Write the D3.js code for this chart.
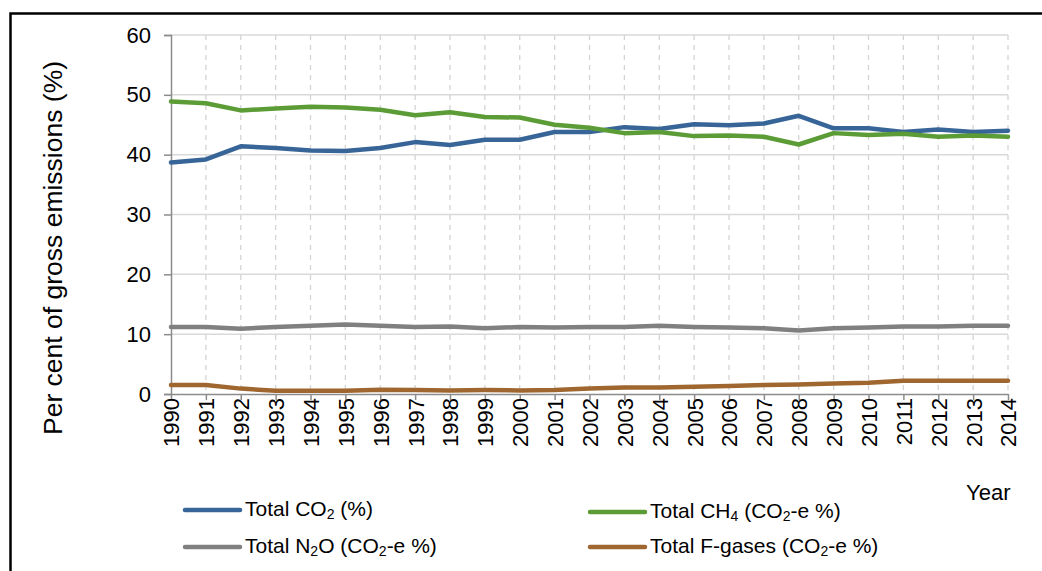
<!DOCTYPE html>
<html>
<head>
<meta charset="utf-8">
<script src="https://cdn.jsdelivr.net/npm/d3@7"></script>
<style>
  html, body { margin: 0; padding: 0; background: #fff; }
  svg { display: block; font-family: "Liberation Sans", Arial, sans-serif; }
</style>
</head>
<body>
<svg id="chart" width="1042" height="571"></svg>
<script>
const years = [1990,1991,1992,1993,1994,1995,1996,1997,1998,1999,2000,2001,2002,2003,2004,2005,2006,2007,2008,2009,2010,2011,2012,2013,2014];
const yTicks = [0,10,20,30,40,50,60];
const co2  = [38.7,39.2,41.4,41.1,40.7,40.6,41.1,42.1,41.6,42.5,42.5,43.8,43.8,44.6,44.3,45.1,44.9,45.2,46.5,44.4,44.4,43.8,44.2,43.8,44.0];
const ch4  = [48.9,48.6,47.4,47.7,48.0,47.9,47.5,46.6,47.1,46.3,46.2,45.0,44.5,43.6,43.8,43.1,43.2,43.0,41.7,43.6,43.3,43.5,43.0,43.2,43.0];
const n2o  = [11.2,11.2,10.9,11.2,11.4,11.6,11.4,11.2,11.3,11.0,11.2,11.1,11.2,11.2,11.4,11.2,11.1,11.0,10.6,11.0,11.1,11.3,11.3,11.4,11.4];
const fgas = [1.5,1.5,0.9,0.55,0.55,0.55,0.7,0.65,0.6,0.65,0.6,0.65,0.9,1.1,1.1,1.2,1.35,1.5,1.6,1.75,1.9,2.2,2.2,2.2,2.2];
const seriesColors = ["#386597","#5C9C36","#808080","#9F672F"];

(function () {
const svg = d3.select("#chart");
const pL = 171, pR = 1008, pT = 35, pB = 394;
const x = d3.scaleLinear().domain([1990, 2014]).range([pL, pR]);
const y = d3.scaleLinear().domain([0, 60]).range([pB, pT]);

// outer border (partially visible)
svg.append("rect").attr("x", 10.5).attr("y", 13.5).attr("width", 1100).attr("height", 700)
  .attr("fill", "none").attr("stroke", "#000").attr("stroke-width", 2.5);

// horizontal grid
svg.append("g").selectAll("line").data(yTicks.filter(d => d > 0)).join("line")
  .attr("x1", pL).attr("x2", pR).attr("y1", d => y(d)).attr("y2", d => y(d))
  .attr("stroke", "#D9D9D9").attr("stroke-width", 1.5);

// vertical dashed grid
svg.append("g").selectAll("line").data(years.slice(1)).join("line")
  .attr("x1", d => x(d)).attr("x2", d => x(d)).attr("y1", pT).attr("y2", pB)
  .attr("stroke", "#D4D4D4").attr("stroke-width", 1.3).attr("stroke-dasharray", "5,5");

// y axis
const yAxis = d3.axisLeft(y).tickValues(yTicks).tickSize(7).tickPadding(13);
const gy = svg.append("g").attr("transform", `translate(${pL},0)`).call(yAxis);
gy.select(".domain").attr("stroke", "#8C8C8C").attr("stroke-width", 1.5);
gy.selectAll(".tick line").attr("stroke", "#8C8C8C").attr("stroke-width", 1.5);
gy.selectAll(".tick text").attr("font-size", 22).attr("fill", "#000")
  .attr("font-family", "'Liberation Sans', Arial, sans-serif");

// x axis
const xAxis = d3.axisBottom(x).tickValues(years).tickFormat(d3.format("d")).tickSize(6).tickSizeOuter(0);
const gx = svg.append("g").attr("transform", `translate(0,${pB})`).call(xAxis);
gx.select(".domain").attr("stroke", "#8C8C8C").attr("stroke-width", 1.5);
gx.selectAll(".tick line").attr("stroke", "#8C8C8C").attr("stroke-width", 1.5);
gx.selectAll(".tick text")
  .attr("font-size", 22).attr("fill", "#000")
  .attr("font-family", "'Liberation Sans', Arial, sans-serif")
  .attr("transform", "rotate(-90)")
  .attr("text-anchor", "end")
  .attr("x", -4).attr("y", 0).attr("dy", "0.36em");

// lines
const lineGen = d3.line().x((d, i) => x(years[i])).y(d => y(d));
const allSeries = [co2, ch4, n2o, fgas];
svg.append("g").selectAll("path").data(allSeries).join("path")
  .attr("d", d => lineGen(d))
  .attr("fill", "none")
  .attr("stroke", (d, i) => seriesColors[i])
  .attr("stroke-width", 4.5)
  .attr("stroke-linejoin", "round")
  .attr("stroke-linecap", "round");

// y axis title
svg.append("text")
  .attr("transform", "translate(62,248) rotate(-90)")
  .attr("text-anchor", "middle")
  .attr("font-size", 26.5).attr("fill", "#000")
  .text("Per cent of gross emissions (%)");

// x axis title
svg.append("text").attr("x", 966).attr("y", 500).attr("font-size", 22).attr("fill", "#000").text("Year");

// legend
const legendItems = [
  { parts: [["Total CO", 0], ["2", 1], [" (%)", 0]], lx: 185, ty: 516, ly: 510, color: seriesColors[0] },
  { parts: [["Total CH", 0], ["4", 1], [" (CO", 0], ["2", 1], ["-e %)", 0]], lx: 590, ty: 518, ly: 512, color: seriesColors[1] },
  { parts: [["Total N", 0], ["2", 1], ["O (CO", 0], ["2", 1], ["-e %)", 0]], lx: 185, ty: 553, ly: 547, color: seriesColors[2] },
  { parts: [["Total F-gases (CO", 0], ["2", 1], ["-e %)", 0]], lx: 590, ty: 553, ly: 547, color: seriesColors[3] }
];
const lg = svg.append("g");
legendItems.forEach(item => {
  lg.append("line").attr("x1", item.lx).attr("x2", item.lx + 55)
    .attr("y1", item.ly).attr("y2", item.ly)
    .attr("stroke", item.color).attr("stroke-width", 4.5).attr("stroke-linecap", "round");
  const t = lg.append("text").attr("x", item.lx + 60).attr("y", item.ty)
    .attr("font-size", 21).attr("fill", "#000");
  let shifted = false;
  item.parts.forEach(([s, sub]) => {
    const ts = t.append("tspan").text(s);
    if (sub) { ts.attr("font-size", 14).attr("dy", 3); shifted = true; }
    else if (shifted) { ts.attr("dy", -3); shifted = false; }
  });
});
})();
</script>
</body>
</html>
